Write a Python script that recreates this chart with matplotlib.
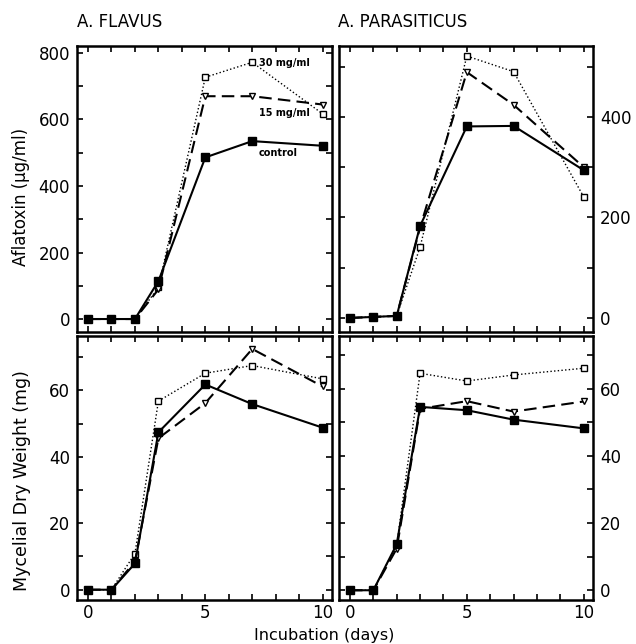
import matplotlib
matplotlib.use("Agg")
import matplotlib.pyplot as plt

plt.rcParams['font.family'] = ['DejaVu Sans']

days = [0, 1, 2, 3, 5, 7, 10]

# aflatoxin (ug/ml)
flavus_afla_control = [0, 0, 0, 114, 486, 535, 521]
flavus_afla_15 = [0, 0, 0, 89, 670, 670, 645]
flavus_afla_30 = [0, 0, 0, 95, 727, 772, 617]

paras_afla_control = [0, 2, 4, 183, 381, 382, 294]
paras_afla_15 = [0, 2, 4, 180, 489, 424, 300]
paras_afla_30 = [0, 2, 4, 141, 521, 490, 241]

# mycelial dry weight (mg)
flavus_myc_control = [0, 0, 7.9, 47.4, 61.8, 55.9, 48.8]
flavus_myc_15 = [0, 0, 8.5, 45.6, 56.2, 72.5, 61.2]
flavus_myc_30 = [0, 0, 10.9, 56.8, 65.2, 67.5, 63.5]

paras_myc_control = [0, 0, 13.7, 54.6, 53.6, 50.8, 48.2]
paras_myc_15 = [0, 0, 12.4, 54.0, 56.3, 53.2, 56.2]
paras_myc_30 = [0, 0, 13.5, 64.6, 62.3, 64.1, 66.1]

W, H = 636, 644
fig = plt.figure(figsize=(W / 100, H / 100), dpi=100)


def box(l, t, r, b):
    return [l / W, 1 - b / H, (r - l) / W, (b - t) / H]


ax_tl = fig.add_axes(box(77, 46, 332, 332))
ax_tr = fig.add_axes(box(339, 46, 593, 332))
ax_bl = fig.add_axes(box(77, 336, 332, 600))
ax_br = fig.add_axes(box(339, 336, 593, 600))


def draw(ax, control, c15, c30):
    ax.plot(days, c30, color='black', ls=':', lw=1.0, marker='s', ms=5,
            mfc='white', mec='black', mew=1.0)
    ax.plot(days, c15, color='black', ls=(0, (6, 3)), lw=1.5, marker='v', ms=5,
            mfc='white', mec='black', mew=1.0)
    ax.plot(days, control, color='black', ls='-', lw=1.5, marker='s', ms=6,
            mfc='black', mec='black')


draw(ax_tl, flavus_afla_control, flavus_afla_15, flavus_afla_30)
draw(ax_tr, paras_afla_control, paras_afla_15, paras_afla_30)
draw(ax_bl, flavus_myc_control, flavus_myc_15, flavus_myc_30)
draw(ax_br, paras_myc_control, paras_myc_15, paras_myc_30)

for ax in [ax_tl, ax_tr, ax_bl, ax_br]:
    ax.set_xlim(-0.47, 10.4)
    ax.set_xticks(range(0, 11))
    ax.tick_params(direction='in', top=True, right=True, left=True, bottom=True,
                   length=4, width=1.2, labelsize=12, pad=5)
    ax.tick_params(axis='x', pad=3)
    for s in ax.spines.values():
        s.set_linewidth(1.8)

ax_tl.set_ylim(-39, 821)
ax_tl.set_yticks(range(0, 801, 100))
ax_tl.set_yticklabels(['0', '', '200', '', '400', '', '600', '', '800'])
ax_tl.set_xticklabels([])

ax_tr.set_ylim(-28, 541)
ax_tr.set_yticks(range(0, 501, 100))
ax_tr.set_yticklabels(['0', '', '200', '', '400', ''])
ax_tr.yaxis.tick_right()
ax_tr.tick_params(left=True, right=True, direction='in')
ax_tr.set_xticklabels([])

xl = ['0', '', '', '', '', '5', '', '', '', '', '10']
ax_bl.set_ylim(-3.1, 76.4)
ax_bl.set_yticks(range(0, 71, 10))
ax_bl.set_yticklabels(['0', '', '20', '', '40', '', '60', ''])
ax_bl.set_xticklabels(xl)

ax_br.set_ylim(-2.9, 75.7)
ax_br.set_yticks(range(0, 71, 10))
ax_br.set_yticklabels(['0', '', '20', '', '40', '', '60', ''])
ax_br.yaxis.tick_right()
ax_br.tick_params(left=True, right=True, direction='in')
ax_br.set_xticklabels(xl)

ax_tl.set_ylabel('Aflatoxin (μg/ml)', fontsize=12)
ax_tl.yaxis.set_label_coords(-0.185, 0.472)
ax_bl.set_ylabel('Mycelial Dry Weight (mg)', fontsize=12.5)
ax_bl.yaxis.set_label_coords(-0.181, 0.451)

fig.text(77 / W, 1 - 22 / H, 'A. FLAVUS', fontsize=12, va='center', ha='left')
fig.text(338 / W, 1 - 22 / H, 'A. PARASITICUS', fontsize=12, va='center', ha='left')
fig.text(324 / W, 1 - 640 / H, 'Incubation (days)', fontsize=11.5, va='baseline', ha='center')

ax_tl.text(7.27, 770, '30 mg/ml', fontsize=7, fontweight='bold', va='center')
ax_tl.text(7.27, 620, '15 mg/ml', fontsize=7, fontweight='bold', va='center')
ax_tl.text(7.27, 500, 'control', fontsize=7, fontweight='bold', va='center')

fig.savefig('out.png', dpi=100)
